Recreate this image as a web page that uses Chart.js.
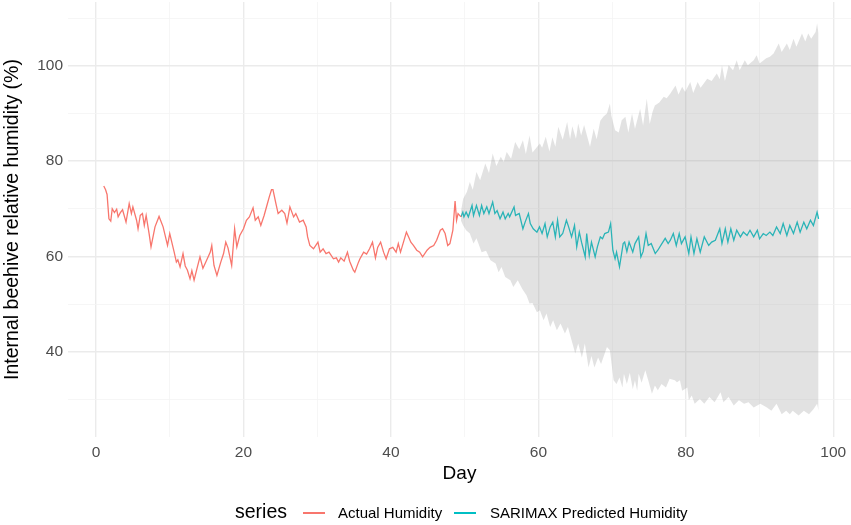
<!DOCTYPE html>
<html><head><meta charset="utf-8">
<script src="https://cdn.jsdelivr.net/npm/chart.js@4.4.1/dist/chart.umd.min.js"></script>
<style>
html,body{margin:0;padding:0;background:#fff;}
#wrap{position:relative;width:851px;height:525px;font-family:"Liberation Sans",Arial,sans-serif;overflow:hidden;}
canvas{position:absolute;left:0;top:0;}
.lg{position:absolute;white-space:nowrap;line-height:1;color:#000;}
.key{position:absolute;height:1.5px;}
</style></head><body>
<div id="wrap">
<canvas id="c" width="851" height="525"></canvas>
<div class="lg" style="left:235px;top:502px;font-size:19.5px;">series</div>
<div class="key" style="left:303px;top:512px;width:22px;background:#F8766D;"></div>
<div class="lg" style="left:338px;top:505px;font-size:15px;">Actual Humidity</div>
<div class="key" style="left:454px;top:512px;width:22px;background:#00BFC4;"></div>
<div class="lg" style="left:490px;top:505px;font-size:15px;">SARIMAX Predicted Humidity</div>
</div>
<script>
// ---- data ----
const actualDay = [1.05,1.3,1.5,1.75,2.0,2.2,2.5,2.8,3.0,3.3,3.6,4.07,4.5,4.8,5.0,5.5,5.7,6.0,6.3,6.55,6.8,7.2,7.46,8.0,8.55,9.1,9.7,10.0,10.6,10.9,11.1,11.4,11.8,12.1,12.4,12.75,13.0,13.3,13.7,14.1,14.5,15.0,15.5,15.7,16.0,16.4,16.9,17.3,17.6,17.9,18.4,18.8,19.1,19.5,20.0,20.4,20.8,21.3,21.6,22.0,22.35,22.8,23.25,23.5,23.8,24.0,24.4,24.7,25.2,25.6,25.9,26.3,26.8,27.1,27.6,28.1,28.5,28.7,29.0,29.5,30.1,30.4,30.8,31.2,31.6,32.2,32.6,32.9,33.2,33.65,34.1,34.4,34.9,35.1,35.6,35.8,36.3,36.7,37.1,37.5,37.9,38.2,38.6,39.0,39.35,39.8,40.25,40.7,41.0,41.3,41.7,42.1,42.4,42.7,43.05,43.5,43.9,44.3,44.9,45.3,45.8,46.2,46.7,47.0,47.35,47.7,48.0,48.4,48.7,48.9,49.1,49.5];
const actualHumidity = [74.8,74.0,73.0,67.9,67.4,70.0,69.2,69.9,68.3,69.2,69.8,67.2,71.1,69.0,70.4,67.6,65.8,68.6,69.0,66.5,68.6,64.8,62.0,66.2,68.4,66.2,62.3,64.8,60.9,58.8,59.3,57.8,60.6,58.0,57.1,55.3,57.0,55.0,57.5,59.9,57.5,59.2,60.9,62.3,58.1,56.0,58.7,60.6,63.0,61.8,58.1,65.8,62.0,64.4,65.8,67.6,68.3,70.2,67.6,68.3,66.5,68.6,71.1,72.5,74.0,74.0,71.1,69.0,69.7,69.0,67.0,70.4,68.3,69.0,67.2,67.6,66.2,64.1,62.3,61.6,63.0,60.9,61.6,60.6,60.9,59.5,59.7,58.8,59.7,59.0,60.9,59.0,57.1,56.7,58.8,59.5,60.9,60.5,61.6,63.0,59.7,61.9,63.0,60.9,59.5,61.6,61.9,60.9,62.7,60.9,63.0,65.1,64.1,63.0,62.3,61.3,60.9,59.9,61.3,61.9,62.3,63.4,65.5,65.8,64.8,62.3,62.7,65.5,71.6,67.6,69.0,68.3];

const predDay = [49.5,49.75,49.9,50.2,50.5,51.0,51.2,51.6,52.0,52.3,52.6,53.0,53.3,53.8,54.1,54.4,54.8,55.2,55.5,55.9,56.1,56.7,56.9,57.4,57.9,58.2,58.65,58.9,59.3,59.8,60.15,60.5,60.9,61.2,61.6,61.95,62.3,62.6,62.9,63.3,63.8,64.1,64.5,64.9,65.2,65.55,65.85,66.35,66.55,66.9,67.2,67.7,68.0,68.4,68.7,69.0,69.5,69.8,70.1,70.4,70.6,71.0,71.5,71.7,72.0,72.3,72.8,73.1,73.6,73.9,74.2,74.6,74.9,75.3,75.85,76.2,76.75,77.2,77.6,77.9,78.3,78.7,79.1,79.4,79.9,80.4,80.7,81.1,81.5,81.95,82.5,83.1,83.5,84.0,84.6,84.9,85.35,85.7,86.1,86.5,86.9,87.4,87.8,88.3,88.7,89.2,89.7,90.0,90.5,90.9,91.4,91.8,92.3,92.8,93.2,93.7,94.1,94.6,95.1,95.5,96.0,96.4,96.9,97.3,97.8,98.0];
const predHumidity = [68.3,69.3,68.3,69.3,68.3,70.7,68.6,70.7,68.6,70.7,69.0,70.4,69.0,71.4,69.0,69.6,67.9,69.3,67.9,69.0,68.3,70.4,68.6,69.0,65.8,67.2,69.0,66.9,65.8,65.1,66.2,64.8,66.9,64.1,66.2,67.2,64.1,67.6,64.1,64.8,67.6,66.2,64.1,66.5,62.0,65.1,63.0,59.9,64.8,60.2,63.0,59.9,62.0,64.1,63.7,64.8,65.1,66.9,61.3,59.5,60.9,57.8,62.7,63.0,61.0,63.0,60.9,62.7,64.1,59.9,61.0,64.8,62.3,62.7,60.6,61.3,62.7,63.8,62.7,63.4,64.8,62.3,64.8,62.7,64.1,60.6,64.1,60.6,63.7,60.9,64.1,62.3,63.0,63.4,65.8,62.7,65.8,63.0,65.8,63.4,65.5,64.1,65.1,64.4,65.5,64.1,65.5,63.7,64.8,64.4,65.1,64.4,66.2,64.8,66.9,64.4,66.5,64.8,67.2,65.1,67.2,65.8,67.6,66.5,69.3,67.9];

const upperDay = [49.5,49.8,50.3,50.7,51.1,51.6,52.1,52.8,53.3,53.8,54.3,54.9,55.3,55.7,56.3,56.85,57.4,57.9,58.3,58.8,59.2,60.2,60.5,61.0,61.5,61.9,62.3,62.7,63.3,63.9,64.3,64.6,65.1,65.4,65.8,66.2,67.0,67.5,67.9,68.4,68.8,69.3,69.7,69.9,70.4,70.9,71.3,71.8,72.2,72.7,73.1,73.8,74.2,74.7,75.1,75.5,75.8,76.4,77.0,77.4,77.9,78.6,79.0,79.5,79.9,80.6,81.0,81.6,82.0,82.9,83.5,84.2,84.6,84.9,85.3,85.8,86.4,86.9,87.3,88.0,88.4,89.2,89.6,90.0,90.9,91.4,91.9,92.6,93.0,93.7,94.1,94.6,95.0,95.75,96.2,96.6,97.0,97.6,97.8,98.0];
const upperBound = [69.5,72.1,73.5,75.6,74.0,77.7,76.0,79.5,77.5,81.6,79.0,80.9,79.8,81.9,80.5,84.0,82.5,84.4,81.5,85.4,81.8,83.7,82.8,85.1,82.0,85.0,83.0,87.2,84.5,88.2,84.6,87.3,84.7,87.9,85.4,87.6,83.0,86.8,84.6,88.5,89.3,90.0,92.1,89.5,86.5,86.0,88.6,89.3,86.0,90.0,86.8,91.0,87.5,93.1,87.8,90.4,91.7,92.3,93.5,93.2,94.2,95.9,94.0,95.6,94.5,96.6,94.3,96.6,95.4,97.3,96.8,98.4,97.2,100.1,96.8,100.1,99.1,101.2,99.1,101.2,100.1,101.2,102.2,100.5,101.6,101.9,102.6,104.7,102.9,104.7,103.3,105.7,104.0,106.8,105.1,106.8,105.7,107.1,108.9,106.8];

const lowerDay = [49.5,49.8,50.2,50.7,51.2,51.6,52.3,52.9,53.5,54.2,54.6,55.0,55.5,56.2,56.6,57.2,57.8,58.4,58.8,59.2,59.8,60.2,60.7,61.1,61.6,62.0,62.5,63.0,63.6,64.0,64.5,65.0,65.4,65.9,66.3,66.8,67.2,67.6,68.1,68.5,69.3,69.7,70.2,70.6,71.0,71.4,71.6,72.0,72.4,72.8,73.1,73.4,73.6,74.0,74.5,74.9,75.4,75.8,76.2,76.7,77.3,77.8,78.5,78.8,79.2,79.5,80.2,80.4,80.8,81.2,81.9,82.5,83.2,83.9,84.7,85.1,85.8,86.5,87.2,87.9,88.5,89.2,90.1,91.0,91.6,92.3,93.0,93.6,94.1,94.5,95.3,96.0,96.7,97.3,97.8,98.0];
const lowerBound = [67.5,66.5,65.5,64.8,62.7,63.8,60.9,61.2,59.2,58.5,56.7,57.8,55.7,55.0,53.6,55.0,53.2,51.8,50.1,50.2,48.3,48.7,46.6,48.0,45.2,46.6,44.5,45.9,43.8,45.2,42.4,39.6,41.7,38.8,41.7,36.7,39.1,36.7,38.8,37.4,41.0,40.3,34.0,33.2,34.6,32.5,35.4,33.2,35.6,32.2,34.0,31.8,35.4,33.5,36.1,34.0,31.2,32.9,31.9,33.2,32.5,34.3,34.0,33.6,34.0,31.8,32.5,29.8,30.8,29.1,30.1,29.1,30.5,29.4,31.5,29.4,30.5,28.7,29.8,29.1,29.4,28.3,29.1,28.3,27.6,29.1,26.9,27.6,26.9,27.6,26.6,27.6,26.9,27.9,29.1,27.6];

const xTicks = [0, 20, 40, 60, 80, 100];
const yTicks = [40, 60, 80, 100];
const seriesNames = ['Actual Humidity', 'SARIMAX Predicted Humidity'];
// ----------------------------------------------

const pts = (xs, ys) => xs.map((x, i) => ({x: x, y: ys[i]}));

Chart.defaults.font.family = '"Liberation Sans", Arial, sans-serif';

const majorGrid = (c, list) => c.tick && list.includes(c.tick.value);
const noPad = s => { s.paddingTop = 0; s.paddingBottom = 0; s.paddingLeft = 0; s.paddingRight = 0; };

new Chart(document.getElementById('c').getContext('2d'), {
  type: 'line',
  data: {
    datasets: [
      {label: 'upper', data: pts(upperDay, upperBound), borderColor: 'rgba(0,0,0,0)', borderWidth: 1,
       pointRadius: 0, fill: '+1', backgroundColor: 'rgba(150,150,150,0.28)', tension: 0},
      {label: 'lower', data: pts(lowerDay, lowerBound), borderColor: 'rgba(0,0,0,0)', borderWidth: 1,
       pointRadius: 0, fill: false, tension: 0},
      {label: seriesNames[0], data: pts(actualDay, actualHumidity), borderColor: '#F8766D', borderWidth: 1.3,
       pointRadius: 0, fill: false, tension: 0},
      {label: seriesNames[1], data: pts(predDay, predHumidity), borderColor: '#00BFC4', borderWidth: 1.3,
       pointRadius: 0, fill: false, tension: 0}
    ]
  },
  options: {
    responsive: false,
    animation: false,
    events: [],
    layout: {padding: {top: 2, right: 0, bottom: 38, left: 0}},
    plugins: {legend: {display: false}, tooltip: {enabled: false}},
    scales: {
      x: {
        type: 'linear', min: -3.8, max: 102.4,
        afterFit: s => { s.height = 50; noPad(s); },
        border: {display: false},
        grid: {
          drawTicks: false,
          color: c => majorGrid(c, xTicks) ? '#ebebeb' : '#f4f4f4',
          lineWidth: c => majorGrid(c, xTicks) ? 1.4 : 0.8
        },
        ticks: {
          stepSize: 10, includeBounds: false, autoSkip: false, maxRotation: 0,
          padding: 6, color: '#4d4d4d', font: {size: 15.5},
          callback: v => xTicks.includes(v) ? String(v) : ''
        },
        title: {display: true, text: 'Day', color: '#000', font: {size: 19}, padding: {top: 0, bottom: 2}}
      },
      y: {
        type: 'linear', min: 22.1, max: 113.4,
        afterFit: s => { s.width = 68; noPad(s); },
        border: {display: false},
        grid: {
          drawTicks: false,
          color: c => majorGrid(c, yTicks) ? '#ebebeb' : '#f4f4f4',
          lineWidth: c => majorGrid(c, yTicks) ? 1.4 : 0.8
        },
        ticks: {
          stepSize: 10, includeBounds: false, autoSkip: false,
          padding: 5, color: '#4d4d4d', font: {size: 15.5},
          callback: v => yTicks.includes(v) ? String(v) : ''
        },
        title: {display: true, text: 'Internal beehive relative humidity (%)', color: '#000', font: {size: 19.5}, padding: {top: 1, bottom: 0}}
      }
    }
  }
});
</script>
</body></html>
